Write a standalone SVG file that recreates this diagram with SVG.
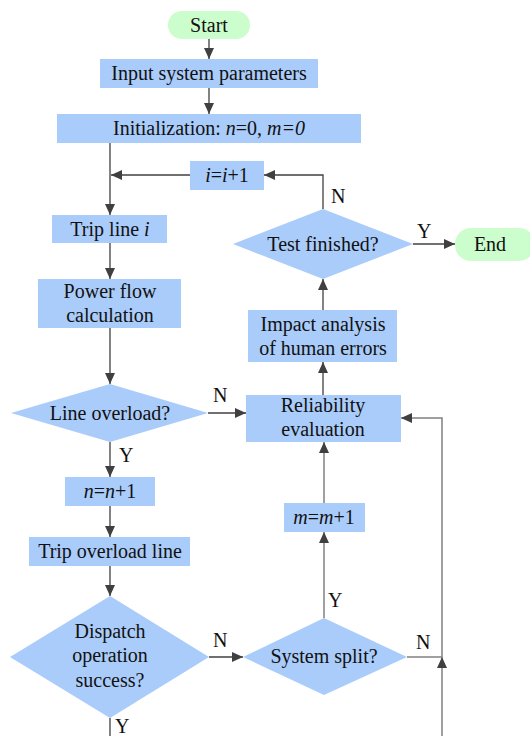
<svg xmlns="http://www.w3.org/2000/svg" width="530" height="736" viewBox="0 0 530 736">
<defs>
<marker id="arr" viewBox="0 0 11 10" refX="11" refY="5" markerWidth="11" markerHeight="10" markerUnits="userSpaceOnUse" orient="auto">
<path d="M0,0 L11,5 L0,10 Z" fill="#404040"/>
</marker>
</defs>
<style>
.box{fill:#aaccfa}
.term{fill:#ccfdcc}
.t{text-anchor:middle}
.c{fill:none;stroke:#404040;stroke-width:1.3}
.g{fill:none;stroke:#808080;stroke-width:1.5}
</style>
<rect width="530" height="736" fill="#fff"/>
<g font-family="Liberation Serif, Times New Roman, Times, serif" font-size="20" fill="#111">
<g id="start"><rect class="term" x="168" y="11" width="82" height="28" rx="14"/><text class="t" x="209" y="31.5">Start</text></g>
<g id="input"><rect class="box" x="100" y="59" width="218" height="29"/><text class="t" x="209" y="80">Input system parameters</text></g>
<g id="init"><rect class="box" x="57" y="114" width="304" height="29"/><text class="t" x="209" y="134.5">Initialization: <tspan font-style="italic">n</tspan>=0, <tspan font-style="italic">m=0</tspan></text></g>
<g id="inc-i"><rect class="box" x="190" y="161" width="74" height="29"/><text class="t" x="227" y="182"><tspan font-style="italic">i</tspan>=<tspan font-style="italic">i</tspan>+1</text></g>
<g id="trip"><rect class="box" x="52" y="215" width="115" height="28"/><text class="t" x="110" y="235.5">Trip line <tspan font-style="italic">i</tspan></text></g>
<g id="test"><polygon class="box" points="323,209 413,244 323,279 233,244"/><text class="t" x="323" y="251">Test finished?</text></g>
<g id="end"><rect class="term" x="455" y="228" width="80" height="33" rx="16"/><text class="t" x="490" y="251">End</text></g>
<g id="pf"><rect class="box" x="38" y="279" width="143" height="49"/><text class="t" x="110" y="298">Power flow</text><text class="t" x="110" y="322">calculation</text></g>
<g id="impact"><rect class="box" x="248" y="310" width="149" height="52"/><text class="t" x="323" y="331">Impact analysis</text><text class="t" x="323" y="355">of human errors</text></g>
<g id="overload"><polygon class="box" points="110,384 208,413 110,442 11,413"/><text class="t" x="110" y="419.5">Line overload?</text></g>
<g id="rel"><rect class="box" x="246" y="395" width="155" height="47"/><text class="t" x="323" y="412">Reliability</text><text class="t" x="323" y="436">evaluation</text></g>
<g id="inc-n"><rect class="box" x="65" y="477" width="90" height="29"/><text class="t" x="110" y="498"><tspan font-style="italic">n</tspan>=<tspan font-style="italic">n</tspan>+1</text></g>
<g id="inc-m"><rect class="box" x="284" y="503" width="81" height="29"/><text class="t" x="324" y="524"><tspan font-style="italic">m</tspan>=<tspan font-style="italic">m</tspan>+1</text></g>
<g id="tripol"><rect class="box" x="29" y="537" width="161" height="29"/><text class="t" x="110" y="558">Trip overload line</text></g>
<g id="dispatch"><polygon class="box" points="110,596 209,657 110,718 10,657"/><text class="t" x="110" y="638">Dispatch</text><text class="t" x="110" y="662">operation</text><text class="t" x="110" y="687">success?</text></g>
<g id="split"><polygon class="box" points="324,618 407,657 324,695 243,657"/><text class="t" x="324" y="663">System split?</text></g>
<g id="labels">
<text x="331" y="203">N</text>
<text x="417" y="238">Y</text>
<text x="213" y="402">N</text>
<text x="119" y="462">Y</text>
<text x="213" y="647">N</text>
<text x="328" y="607">Y</text>
<text x="416" y="649">N</text>
<text x="115" y="733">Y</text>
</g>
</g>
<g id="connectors">
<line class="c" x1="209" y1="39" x2="209" y2="59" marker-end="url(#arr)"/>
<line class="c" x1="209" y1="88" x2="209" y2="114" marker-end="url(#arr)"/>
<line class="c" x1="110" y1="143" x2="110" y2="215" marker-end="url(#arr)"/>
<line class="c" x1="190" y1="175" x2="111" y2="175" marker-end="url(#arr)"/>
<polyline class="c" points="323,209 323,175 264,175" marker-end="url(#arr)"/>
<line class="c" x1="413" y1="244" x2="455" y2="244" marker-end="url(#arr)"/>
<line class="c" x1="110" y1="243" x2="110" y2="279" marker-end="url(#arr)"/>
<line class="c" x1="110" y1="328" x2="110" y2="384" marker-end="url(#arr)"/>
<line class="c" x1="208" y1="413" x2="246" y2="413" marker-end="url(#arr)"/>
<line class="c" x1="323" y1="395" x2="323" y2="362" marker-end="url(#arr)"/>
<line class="c" x1="323" y1="310" x2="323" y2="279" marker-end="url(#arr)"/>
<line class="c" x1="110" y1="442" x2="110" y2="477" marker-end="url(#arr)"/>
<line class="c" x1="110" y1="506" x2="110" y2="537" marker-end="url(#arr)"/>
<line class="c" x1="110" y1="566" x2="110" y2="596" marker-end="url(#arr)"/>
<line class="c" x1="110" y1="718" x2="110" y2="736"/>
<line class="c" x1="209" y1="657" x2="243" y2="657" marker-end="url(#arr)"/>
<line class="g" x1="324" y1="618" x2="324" y2="532" marker-end="url(#arr)"/>
<line class="g" x1="324" y1="503" x2="324" y2="442" marker-end="url(#arr)"/>
<line class="g" x1="407" y1="657" x2="442" y2="657"/>
<line class="g" x1="442" y1="736" x2="442" y2="657" marker-end="url(#arr)"/>
<polyline class="g" points="442,657 442,418 401,418" marker-end="url(#arr)"/>
</g>
</svg>
